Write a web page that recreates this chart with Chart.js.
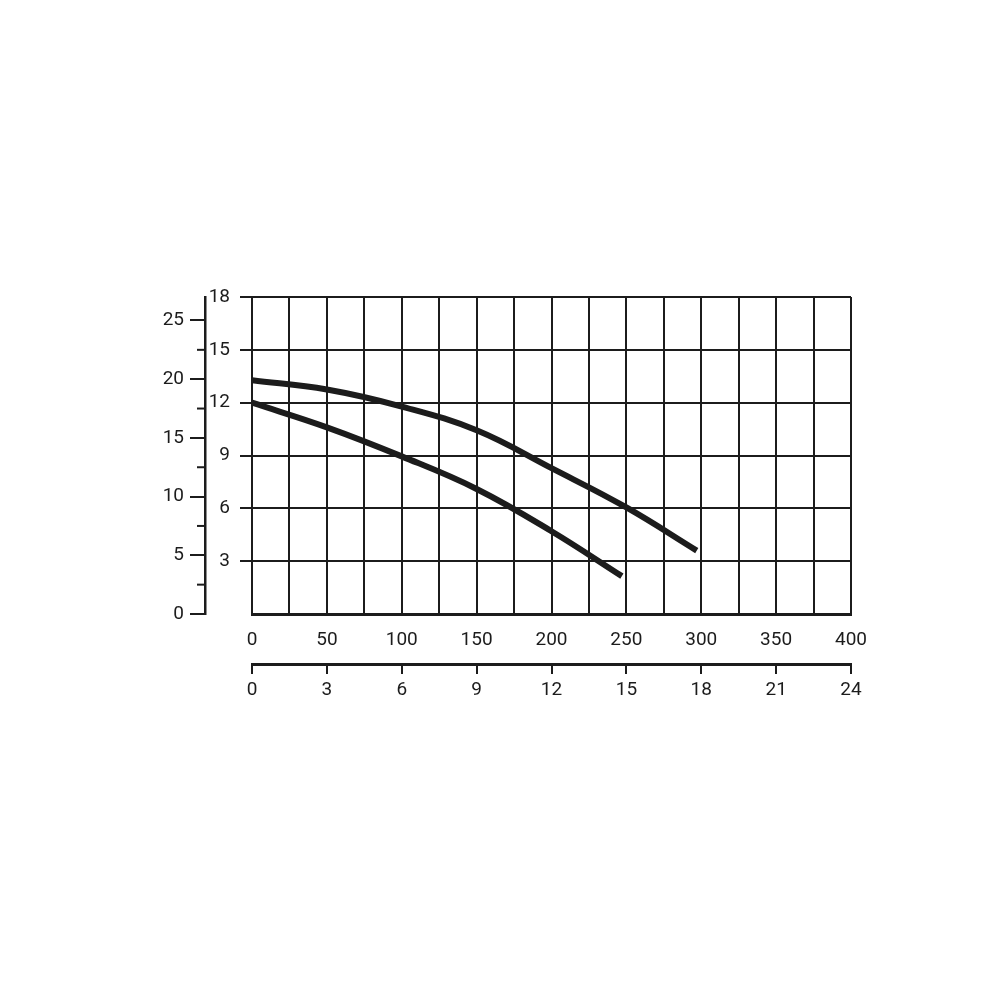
<!DOCTYPE html>
<html>
<head>
<meta charset="UTF-8">
<title>Pump curve</title>
<style>
  body { margin: 0; background: #fff; }
  #wrap { width: 1000px; height: 1000px; }
</style>
</head>
<body>
<div id="wrap"><canvas id="chart" width="1000" height="1000"></canvas></div>

<script src="https://cdn.jsdelivr.net/npm/chart.js@4.4.0/dist/chart.umd.min.js"></script>

<script>
// flow (bottom scale, 0-400) against head (inner left scale, 0-18)
const upperFlow = [0, 50, 100, 150, 200, 250, 297];
const upperHead = [13.27, 12.75, 11.78, 10.43, 8.28, 6.05, 3.6];

const lowerFlow = [0, 50, 100, 150, 200, 247];
const lowerHead = [12.0, 10.6, 8.95, 7.1, 4.7, 2.15];

// axis ranges / tick steps
const flowMax = 400, flowGridStep = 25, flowLabelStep = 50;
const flow2Max = 24, flow2Step = 3;
const headMax = 18, headStep = 3;
const head2Max = 27, head2Step = 2.5, head2LabelStep = 5;

const ink = '#1c1c1c';
const font = { family: 'Roboto', size: 19 };

function pts(xs, ys) {
  return xs.map((x, i) => ({ x: x, y: ys[i] }));
}

// short minor ticks on the outer left scale
const minorTicks = {
  id: 'minorTicks',
  afterDraw(chart) {
    const s = chart.scales.y2;
    const ctx = chart.ctx;
    ctx.save();
    ctx.strokeStyle = ink;
    ctx.lineWidth = 2;
    s.ticks.forEach(t => {
      if (t.value % head2LabelStep !== 0) {
        const y = s.getPixelForValue(t.value);
        ctx.beginPath();
        ctx.moveTo(s.right - 8, y);
        ctx.lineTo(s.right, y);
        ctx.stroke();
      }
    });
    ctx.restore();
  }
};

const chart = new Chart(document.getElementById('chart'), {
  type: 'line',
  data: {
    datasets: [{
      data: pts(upperFlow, upperHead),
      borderColor: ink,
      borderWidth: 6,
      pointRadius: 0,
      tension: 0.4,
      xAxisID: 'x',
      yAxisID: 'y'
    }, {
      data: pts(lowerFlow, lowerHead),
      borderColor: ink,
      borderWidth: 6,
      pointRadius: 0,
      tension: 0.4,
      xAxisID: 'x',
      yAxisID: 'y'
    }]
  },
  options: {
    responsive: false,
    animation: false,
    layout: { padding: { left: 150, right: 149, top: 297, bottom: 296 } },
    plugins: {
      legend: { display: false },
      tooltip: { enabled: false }
    },
    scales: {
      x: {
        type: 'linear',
        position: 'bottom',
        weight: 0,
        min: 0,
        max: flowMax,
        afterFit: s => { s.height = 50; },
        grid: { color: ink, lineWidth: 2, drawTicks: false },
        border: { color: ink, width: 3 },
        ticks: {
          stepSize: flowGridStep,
          padding: 15,
          maxRotation: 0,
          autoSkip: false,
          color: ink,
          font: font,
          callback: v => (v % flowLabelStep === 0 ? v : '')
        }
      },
      x2: {
        type: 'linear',
        position: 'bottom',
        weight: 1,
        min: 0,
        max: flow2Max,
        afterFit: s => { s.height = 40; },
        grid: { drawOnChartArea: false, color: ink, lineWidth: 2, tickLength: 10 },
        border: { color: ink, width: 3 },
        ticks: {
          stepSize: flow2Step,
          padding: 5,
          maxRotation: 0,
          autoSkip: false,
          color: ink,
          font: font
        }
      },
      y: {
        type: 'linear',
        position: 'left',
        weight: 0,
        min: 0,
        max: headMax,
        afterFit: s => { s.width = 47; },
        grid: {
          color: ink,
          lineWidth: 2,
          tickLength: 12,
          tickColor: c => (c.tick && c.tick.value === 0 ? 'transparent' : ink)
        },
        border: { color: ink, width: 2 },
        ticks: {
          stepSize: headStep,
          padding: 10,
          color: ink,
          font: font,
          callback: v => (v === 0 ? '' : v)
        }
      },
      y2: {
        type: 'linear',
        position: 'left',
        weight: 1,
        min: 0,
        max: head2Max,
        afterFit: s => { s.width = 55; },
        grid: {
          drawOnChartArea: false,
          lineWidth: 2,
          tickLength: 15,
          tickColor: c => (c.tick && c.tick.value % head2LabelStep === 0 ? ink : 'transparent')
        },
        border: { color: ink, width: 2.5 },
        ticks: {
          stepSize: head2Step,
          includeBounds: false,
          autoSkip: false,
          padding: 6,
          color: ink,
          font: font,
          callback: v => (v % head2LabelStep === 0 ? v : '')
        }
      }
    }
  },
  plugins: [minorTicks]
});
</script>
</body>
</html>
